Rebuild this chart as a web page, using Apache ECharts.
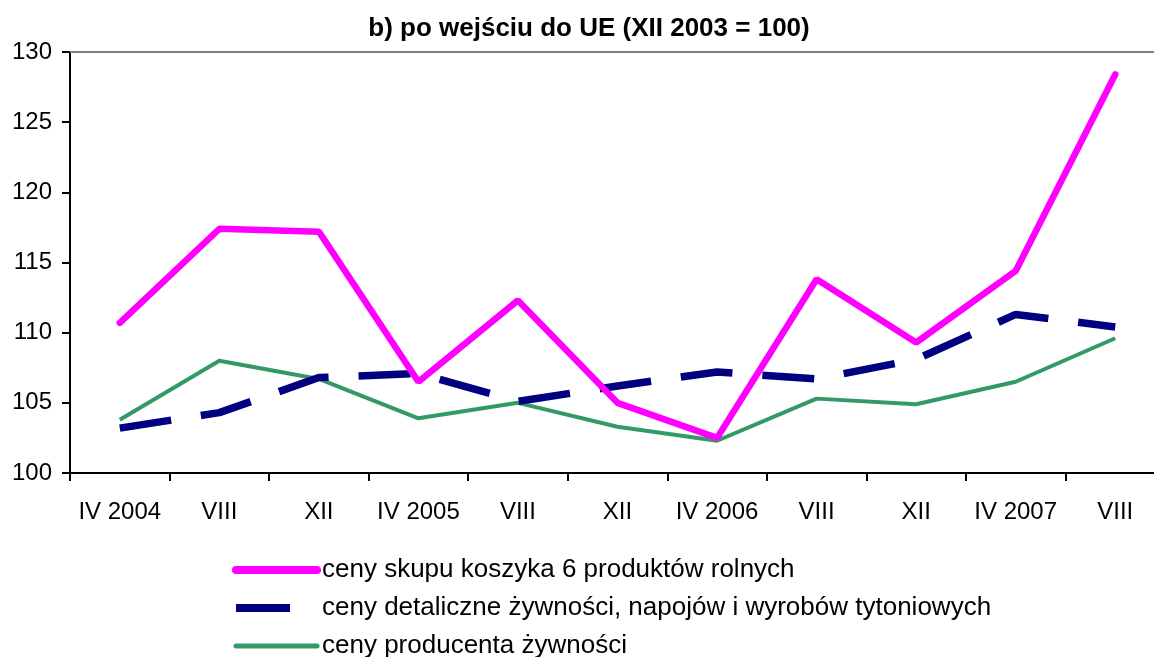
<!DOCTYPE html>
<html>
<head>
<meta charset="utf-8">
<script src="https://cdn.jsdelivr.net/npm/echarts@6/dist/echarts.min.js"></script>
<style>
html, body { margin: 0; padding: 0; background: #fff; overflow: hidden; }
#main { width: 1180px; height: 700px; }
</style>
</head>
<body>
<div id="main"></div>
<script>
// okresy (kwartały/miesiące)
var categories = ['IV 2004', 'VIII', 'XII', 'IV 2005', 'VIII', 'XII', 'IV 2006', 'VIII', 'XII', 'IV 2007', 'VIII'];
// ceny skupu koszyka 6 produktów rolnych
var skup = [110.7, 117.4, 117.2, 106.5, 112.3, 105.0, 102.5, 113.8, 109.3, 114.4, 128.4];
// ceny detaliczne żywności, napojów i wyrobów tytoniowych
var detal = [103.2, 104.3, 106.8, 107.1, 105.1, 106.2, 107.2, 106.7, 108.1, 111.3, 110.4];
// ceny producenta żywności
var producent = [103.8, 108.0, 106.7, 103.9, 105.0, 103.3, 102.3, 105.3, 104.9, 106.5, 109.6];

var names = [
    'ceny skupu koszyka 6 produktów rolnych',
    'ceny detaliczne żywności, napojów i wyrobów tytoniowych',
    'ceny producenta żywności'
];

var myChart = echarts.init(document.getElementById('main'));
var font = 'Liberation Sans, Arial, sans-serif';

var option = {
    backgroundColor: '#fff',
    animation: false,
    title: {
        text: 'b) po wejściu do UE (XII 2003 = 100)',
        left: 584,
        textAlign: 'center',
        top: 11,
        textStyle: { fontFamily: font, fontSize: 26, fontWeight: 'bold', color: '#000' }
    },
    legend: {
        orient: 'vertical',
        left: 232,
        top: 557,
        padding: 0,
        itemWidth: 81,
        itemHeight: 8,
        itemGap: 12,
        itemStyle: { opacity: 0 },
        textStyle: { fontFamily: font, fontSize: 26, color: '#000' },
        data: [
            { name: names[0], lineStyle: { width: 8, cap: 'round' } },
            { name: names[1], lineStyle: { width: 8, type: [54, 40] } },
            { name: names[2], lineStyle: { width: 5, cap: 'round' } }
        ]
    },
    grid: {
        left: 70,
        top: 52,
        width: 1095,
        height: 421
    },
    xAxis: {
        type: 'category',
        data: categories,
        boundaryGap: true,
        axisLine: { lineStyle: { color: '#000', width: 2 } },
        axisTick: { show: true, length: 8, lineStyle: { color: '#000', width: 2 } },
        axisLabel: { fontFamily: font, fontSize: 24, color: '#000', margin: 27, interval: 0 },
        splitLine: { show: false }
    },
    yAxis: {
        type: 'value',
        min: 100,
        max: 130,
        interval: 5,
        axisLine: { show: true, lineStyle: { color: '#000', width: 2 } },
        axisTick: { show: true, length: 8, lineStyle: { color: '#000', width: 2 } },
        axisLabel: { fontFamily: font, fontSize: 24, color: '#000', margin: 18 },
        splitLine: { show: false }
    },
    series: [
        {
            name: names[0],
            type: 'line',
            data: skup,
            symbol: 'none',
            z: 3,
            lineStyle: { color: '#ff00ff', width: 6.5, cap: 'round' },
            itemStyle: { color: '#ff00ff' },
            markLine: {
                silent: true,
                symbol: 'none',
                label: { show: false },
                lineStyle: { color: '#808080', width: 2, type: 'solid' },
                data: [{ yAxis: 130 }]
            }
        },
        {
            name: names[1],
            type: 'line',
            data: detal,
            symbol: 'none',
            z: 2,
            lineStyle: { color: '#000080', width: 7.5, type: [52, 30] },
            itemStyle: { color: '#000080' }
        },
        {
            name: names[2],
            type: 'line',
            data: producent,
            symbol: 'none',
            z: 1,
            lineStyle: { color: '#339966', width: 4 },
            itemStyle: { color: '#339966' }
        }
    ]
};

myChart.setOption(option);
window.addEventListener('resize', function () {
    myChart.resize();
});
</script>
</body>
</html>
